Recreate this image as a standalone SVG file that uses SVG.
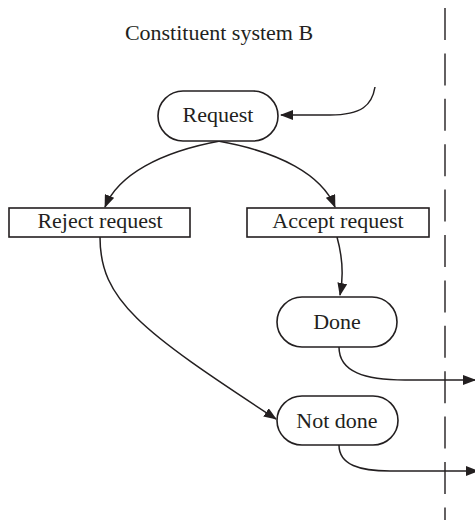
<svg xmlns="http://www.w3.org/2000/svg" width="475" height="520" viewBox="0 0 475 520">
<style>
.node{fill:#fff;stroke:#231f20;stroke-width:1.6}
.lbl{font-family:"Liberation Serif",serif;font-size:22px;fill:#231f20;text-anchor:middle}
.edge{fill:none;stroke:#231f20;stroke-width:1.5}
.div{stroke:#231f20;stroke-width:1.4;stroke-dasharray:32 13.4}
</style>
<defs>
<marker id="ah" viewBox="0 0 13 10" refX="12" refY="5" markerWidth="13" markerHeight="10" markerUnits="userSpaceOnUse" orient="auto">
<path d="M0,0 L13,5 L0,10 Z" fill="#231f20"/>
</marker>
</defs>
<text class="lbl" x="219" y="40">Constituent system B</text>
<line class="div" x1="445" y1="8" x2="445" y2="520"/>
<g id="connectors">
<path class="edge" d="M375,87 C372,105 362,115 330,115 L281,115" marker-end="url(#ah)"/>
<path class="edge" d="M220,141 C160,152 118,175 105,207" marker-end="url(#ah)"/>
<path class="edge" d="M218,141 C280,152 322,175 335,207" marker-end="url(#ah)"/>
<path class="edge" d="M337,237 C342,255 344,275 340,295" marker-end="url(#ah)"/>
<path class="edge" d="M100,237 C100,300 140,330 276,419" marker-end="url(#ah)"/>
<path class="edge" d="M339,347 C339,372 365,380 405,380 L475,380" marker-end="url(#ah)"/>
<path class="edge" d="M339,445 C339,465 360,471 390,471 L478,471" marker-end="url(#ah)"/>
</g>
<g id="request"><rect class="node" x="158" y="91" width="120" height="50" rx="25"/><text class="lbl" x="218" y="122">Request</text></g>
<g id="reject"><rect class="node" x="9" y="208" width="181" height="29"/><text class="lbl" x="100" y="228">Reject request</text></g>
<g id="accept"><rect class="node" x="247" y="208" width="182" height="29"/><text class="lbl" x="338" y="228">Accept request</text></g>
<g id="done"><rect class="node" x="277" y="297" width="120" height="50" rx="25"/><text class="lbl" x="337" y="329">Done</text></g>
<g id="notdone"><rect class="node" x="277" y="396" width="121" height="49" rx="25"/><text class="lbl" x="337" y="428">Not done</text></g>
</svg>
